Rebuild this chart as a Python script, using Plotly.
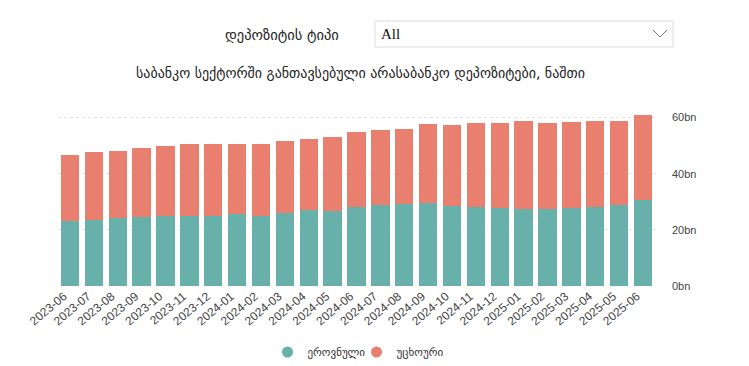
import plotly.graph_objects as go

months = ["2023-06", "2023-07", "2023-08", "2023-09", "2023-10", "2023-11", "2023-12",
          "2024-01", "2024-02", "2024-03", "2024-04", "2024-05", "2024-06", "2024-07",
          "2024-08", "2024-09", "2024-10", "2024-11", "2024-12", "2025-01", "2025-02",
          "2025-03", "2025-04", "2025-05", "2025-06"]
national = [23.0, 23.6, 24.2, 24.5, 24.8, 24.8, 24.9, 25.5, 25.1, 26.1, 27.0, 26.7, 28.1, 28.7,
            29.3, 29.5, 28.4, 28.1, 27.7, 27.5, 27.3, 27.7, 28.1, 29.0, 30.6]
totals = [46.8, 47.7, 48.0, 49.3, 49.9, 50.5, 50.7, 50.7, 50.5, 51.8, 52.4, 53.0, 54.9, 55.7,
          56.1, 57.7, 57.5, 58.0, 58.2, 58.7, 58.0, 58.4, 58.8, 58.9, 60.8]
foreign = [round(t - n, 1) for t, n in zip(totals, national)]

names = ["ეროვნული", "უცხოური"]
colors = ["#68B0AA", "#E9806F"]
title = "საბანკო სექტორში განთავსებული არასაბანკო დეპოზიტები, ნაშთი"
filter_label = "დეპოზიტის ტიპი"
filter_value = "All"
ytick_vals = [0, 20, 40, 60]

geo_font = "DejaVu Sans"

# page body has an 8px margin; figure is sized to fit the window
W, H = 741, 358
PL, PR, PT, PB = 58, 655, 112, 286   # plot area in window pixels


def px(xs):
    return (xs - PL) / (PR - PL)


def py(ys):
    return (PB - ys) / (PB - PT)


fig = go.Figure()
fig.add_trace(go.Bar(x=months, y=national, name=names[0], marker_color=colors[0],
                     marker_line_width=0, showlegend=False))
fig.add_trace(go.Bar(x=months, y=foreign, name=names[1], marker_color=colors[1],
                     marker_line_width=0, showlegend=False))
# legend entries with circular markers
for nm, col in zip(names, colors):
    fig.add_trace(go.Scatter(x=[None], y=[None], mode="markers", name=nm,
                             marker=dict(symbol="circle", size=11, color=col),
                             showlegend=True, hoverinfo="skip"))

fig.update_layout(
    width=W, height=H,
    barmode="stack", bargap=0.23,
    paper_bgcolor="white", plot_bgcolor="white",
    margin=dict(l=PL - 8, r=W - (PR - 8), t=PT - 8, b=H - (PB - 8), autoexpand=False),
    showlegend=True,
    legend=dict(orientation="h", x=0.5, xanchor="center", xref="paper",
                y=py(352), yanchor="middle", yref="paper",
                font=dict(family=geo_font, size=11, color="#333"),
                itemwidth=30, traceorder="normal", tracegroupgap=0,
                entrywidth=44, entrywidthmode="pixels",
                itemclick=False),
    xaxis=dict(type="category", tickangle=-40,
               tickfont=dict(family="Liberation Sans", size=12, color="#444"),
               ticklabelshift=-6,
               showgrid=False, showline=False, ticks="", automargin=False),
    yaxis=dict(side="right", range=[0, 62], tickvals=ytick_vals,
               ticktext=[f"{v}bn" for v in ytick_vals],
               tickfont=dict(family="Liberation Sans", size=11, color="#444"),
               showgrid=True, gridcolor="#e3e3e3", griddash="dot", gridwidth=1,
               zeroline=False, showline=False, ticklabelstandoff=16, automargin=False),
    font=dict(family=geo_font),
)

# title
fig.add_annotation(text=title, xref="paper", yref="paper", x=px(360), y=py(73),
                   xanchor="center", yanchor="middle", showarrow=False,
                   font=dict(family=geo_font, size=14, color="#222"))

# filter label and dropdown box
fig.add_annotation(text=filter_label, xref="paper", yref="paper",
                   x=px(341), y=py(35), xanchor="right", yanchor="middle",
                   showarrow=False, font=dict(family=geo_font, size=14.5, color="#222"))
fig.add_shape(type="rect", xref="paper", yref="paper",
              x0=px(375), x1=px(673), y0=py(47), y1=py(21),
              line=dict(color="#dcdcdc", width=1), fillcolor="white", layer="above")
fig.add_annotation(text=filter_value, xref="paper", yref="paper",
                   x=px(379), y=py(34), xanchor="left", yanchor="middle",
                   showarrow=False, font=dict(family="Liberation Serif", size=15, color="#111"))
fig.add_shape(type="path", xref="paper", yref="paper",
              path=f"M {px(653)} {py(30)} L {px(660)} {py(37)} L {px(667)} {py(30)}",
              line=dict(color="#777", width=1), layer="above")

fig.write_html("out.html")
